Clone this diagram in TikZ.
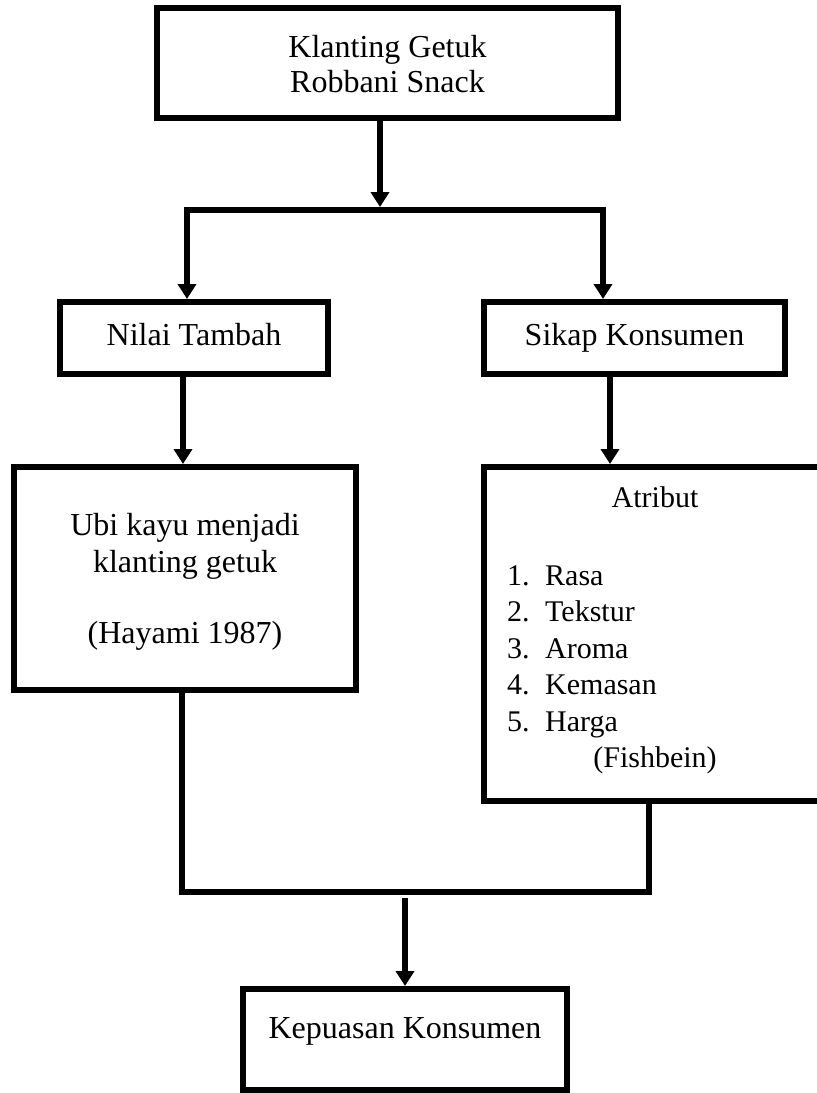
\documentclass[tikz,border=0pt]{standalone}
\usepackage{fontspec}
\setmainfont{Liberation Serif}
\usetikzlibrary{arrows.meta}
\begin{document}
\begin{tikzpicture}[x=1pt,y=-1pt,
  box/.style={draw=black, line width=6pt, rectangle, inner sep=0pt, outer sep=0pt},
  txt/.style={font=\fontsize{32}{36}\selectfont, anchor=base, inner sep=0pt},
  smalltxt/.style={font=\fontsize{30}{36}\selectfont, anchor=base, inner sep=0pt},
  itemtxt/.style={font=\fontsize{30}{36}\selectfont, anchor=base west, inner sep=0pt},
  wire/.style={line width=6pt, line join=miter},
  tipstyle/.style={},
  arr/.style={wire, -{Triangle[width=18pt,length=15pt]}, shorten >=3pt},
  arrboth/.style={wire, {Triangle[width=18pt,length=15pt]}-{Triangle[width=18pt,length=15pt]}, shorten >=3pt, shorten <=3pt}
]
\useasboundingbox (0,0) rectangle (817,1093);

% boxes
\node[box, minimum width=461pt, minimum height=110pt] (top) at (387.5,63) {};
\node[box, minimum width=268pt, minimum height=72pt] (nilai) at (194,338) {};
\node[box, minimum width=301pt, minimum height=72pt] (sikap) at (634.5,338) {};
\node[box, minimum width=342pt, minimum height=223pt] (ubi) at (185,578.5) {};
\node[box, minimum width=342pt, minimum height=334pt] (atr) at (655,634) {};
\node[box, minimum width=324pt, minimum height=101pt] (kep) at (405,1039.5) {};

% texts
\node[txt] (t1) at (387.5,57) {Klanting Getuk};
\node[txt] (t2) at (387.5,92) {Robbani Snack};
\node[txt] (t3) at (194,345) {Nilai Tambah};
\node[txt] (t4) at (634.5,345) {Sikap Konsumen};
\node[txt] (t5) at (185,535) {Ubi kayu menjadi};
\node[txt] (t6) at (185,572) {klanting getuk};
\node[txt] (t7) at (185,643) {(Hayami 1987)};
\node[smalltxt] (t8) at (655,507) {Atribut};
\node[itemtxt] (i1) at (507,585) {\makebox[38pt][l]{1.}Rasa};
\node[itemtxt] (i2) at (507,621.5) {\makebox[38pt][l]{2.}Tekstur};
\node[itemtxt] (i3) at (507,658) {\makebox[38pt][l]{3.}Aroma};
\node[itemtxt] (i4) at (507,694.5) {\makebox[38pt][l]{4.}Kemasan};
\node[itemtxt] (i5) at (507,731) {\makebox[38pt][l]{5.}Harga};
\node[smalltxt] (t9) at (655,767.5) {(Fishbein)};
\node[txt] (t10) at (405,1038) {Kepuasan Konsumen};

% helper coordinates
\coordinate (j1) at (380,210);
\coordinate (jL) at (187,210);
\coordinate (jR) at (603,210);
\coordinate (cL) at (183,0);
\coordinate (cR) at (610,0);
\coordinate (mL) at (182,892);
\coordinate (mR) at (649,892);
\coordinate (mC) at (405,898);

% connectors
\draw[arr] (top.south -| j1) -- (j1);
\draw[arrboth] (jL |- nilai.north) -- (jL) -- (jR) -- (jR |- sikap.north);
\draw[arr] (nilai.south -| cL) -- (ubi.north -| cL);
\draw[arr] (sikap.south -| cR) -- (atr.north -| cR);
\draw[wire] (ubi.south -| mL) -- (mL) -- (mR) -- (atr.south -| mR);
\draw[arr] (mC) -- (kep.north -| mC);
\end{tikzpicture}
\end{document}
